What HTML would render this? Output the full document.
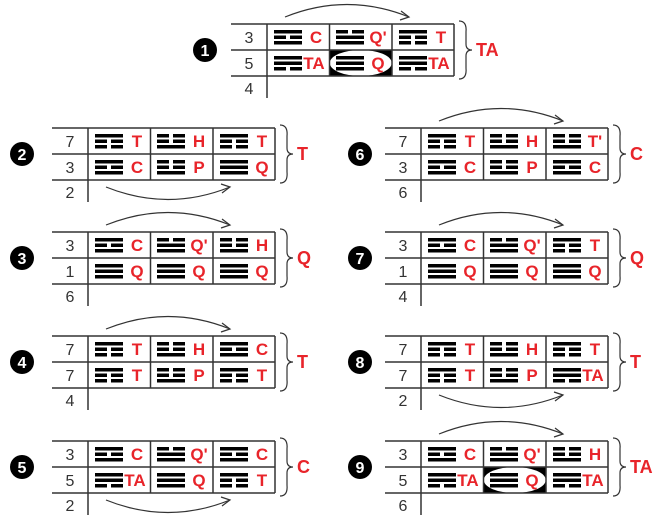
<!DOCTYPE html>
<html><head><meta charset="utf-8"><style>
html,body{margin:0;padding:0;background:#fff;width:658px;height:525px;overflow:hidden}
svg{display:block}
.n{font-family:"Liberation Sans",sans-serif;font-size:16px;fill:#333;text-anchor:middle}
.l{font-family:"Liberation Sans",sans-serif;font-size:17px;font-weight:bold;fill:#e8242a;text-anchor:middle}
.b{font-family:"Liberation Sans",sans-serif;font-size:18px;font-weight:bold;fill:#e8242a}
.c{font-family:"Liberation Sans",sans-serif;font-size:16px;font-weight:bold;fill:#fff;text-anchor:middle}
.ln{stroke:#333;stroke-width:1.5;fill:none}
.ar{stroke:#333;stroke-width:1.2;fill:none}
</style></head><body>
<svg width="658" height="525" viewBox="0 0 658 525" xmlns="http://www.w3.org/2000/svg">
<defs>
<g id="S0"><rect x="0" y="0" width="28" height="3.5"/></g>
<g id="B0"><rect x="0" y="0" width="12" height="3.5"/><rect x="16" y="0" width="12" height="3.5"/></g>
<g id="tC"><use href="#S0" y="0"/><use href="#B0" y="5.5"/><use href="#S0" y="11"/></g>
<g id="tQp"><use href="#B0" y="0"/><use href="#S0" y="5.5"/><use href="#S0" y="11"/></g>
<g id="tT"><use href="#S0" y="0"/><use href="#B0" y="5.5"/><use href="#B0" y="11"/></g>
<g id="tH"><use href="#B0" y="0"/><use href="#B0" y="5.5"/><use href="#S0" y="11"/></g>
<g id="tP"><use href="#B0" y="0"/><use href="#B0" y="5.5"/><use href="#S0" y="11"/></g>
<g id="tQ"><use href="#S0" y="0"/><use href="#S0" y="5.5"/><use href="#S0" y="11"/></g>
<g id="tTA"><use href="#S0" y="0"/><use href="#S0" y="5.5"/><use href="#B0" y="11"/></g>
<g id="frame">
<path class="ln" d="M0 0H223M0 26H223M0 52H223M36 0V74M98.5 0V52M161 0V52M223 0V52"/>
<path class="ar" d="M228 -3Q236 -3 235 8L235 20Q235 26 241 26Q235 26 235 32L235 44Q236 55 228 55"/>
</g>
<g id="atop"><path class="ar" d="M54 -7Q116 -32 178 -7"/><path class="ar" d="M170 -13L178 -7L169 -4"/></g>
<g id="abot"><path class="ar" d="M54 59Q116 84 178 59"/><path class="ar" d="M169 56L178 59L170 65"/></g>
<g id="oval"><rect x="98.5" y="26" width="62.5" height="26" fill="#000"/><ellipse cx="129.75" cy="39" rx="31" ry="13" fill="#fff"/></g>
</defs>

<g transform="translate(231,24)">
<use href="#oval"/><use href="#frame"/><use href="#atop"/>
<circle cx="-26" cy="26" r="12" fill="#000"/><text class="c" x="-26" y="32">1</text>
<text class="n" x="18" y="19">3</text><text class="n" x="18" y="45">5</text><text class="n" x="18" y="70">4</text>
<use href="#tC" x="43" y="6"/><text class="l" x="85" y="19">C</text>
<use href="#tQp" x="105" y="6"/><text class="l" x="147" y="19">Q'</text>
<use href="#tT" x="168" y="6"/><text class="l" x="210" y="19">T</text>
<use href="#tTA" x="43" y="32"/><text class="l" x="83" y="45">TA</text>
<use href="#tQ" x="105" y="32"/><text class="l" x="147" y="45">Q</text>
<use href="#tTA" x="168" y="32"/><text class="l" x="208" y="45">TA</text>
<text class="b" x="245" y="32">TA</text>
</g>

<g transform="translate(52,128)">
<use href="#frame"/><use href="#abot"/>
<circle cx="-30" cy="26" r="12" fill="#000"/><text class="c" x="-30" y="32">2</text>
<text class="n" x="18" y="19">7</text><text class="n" x="18" y="45">3</text><text class="n" x="18" y="70">2</text>
<use href="#tT" x="43" y="6"/><text class="l" x="85" y="19">T</text>
<use href="#tH" x="105" y="6"/><text class="l" x="147" y="19">H</text>
<use href="#tT" x="168" y="6"/><text class="l" x="210" y="19">T</text>
<use href="#tC" x="43" y="32"/><text class="l" x="85" y="45">C</text>
<use href="#tP" x="105" y="32"/><text class="l" x="147" y="45">P</text>
<use href="#tQ" x="168" y="32"/><text class="l" x="210" y="45">Q</text>
<text class="b" x="245" y="32">T</text>
</g>

<g transform="translate(52,232)">
<use href="#frame"/><use href="#atop"/>
<circle cx="-30" cy="26" r="12" fill="#000"/><text class="c" x="-30" y="32">3</text>
<text class="n" x="18" y="19">3</text><text class="n" x="18" y="45">1</text><text class="n" x="18" y="70">6</text>
<use href="#tC" x="43" y="6"/><text class="l" x="85" y="19">C</text>
<use href="#tQp" x="105" y="6"/><text class="l" x="147" y="19">Q'</text>
<use href="#tH" x="168" y="6"/><text class="l" x="210" y="19">H</text>
<use href="#tQ" x="43" y="32"/><text class="l" x="85" y="45">Q</text>
<use href="#tQ" x="105" y="32"/><text class="l" x="147" y="45">Q</text>
<use href="#tQ" x="168" y="32"/><text class="l" x="210" y="45">Q</text>
<text class="b" x="245" y="32">Q</text>
</g>

<g transform="translate(52,336)">
<use href="#frame"/><use href="#atop"/>
<circle cx="-30" cy="26" r="12" fill="#000"/><text class="c" x="-30" y="32">4</text>
<text class="n" x="18" y="19">7</text><text class="n" x="18" y="45">7</text><text class="n" x="18" y="70">4</text>
<use href="#tT" x="43" y="6"/><text class="l" x="85" y="19">T</text>
<use href="#tH" x="105" y="6"/><text class="l" x="147" y="19">H</text>
<use href="#tC" x="168" y="6"/><text class="l" x="210" y="19">C</text>
<use href="#tT" x="43" y="32"/><text class="l" x="85" y="45">T</text>
<use href="#tP" x="105" y="32"/><text class="l" x="147" y="45">P</text>
<use href="#tT" x="168" y="32"/><text class="l" x="210" y="45">T</text>
<text class="b" x="245" y="32">T</text>
</g>

<g transform="translate(52,441)">
<use href="#frame"/><use href="#abot"/>
<circle cx="-30" cy="26" r="12" fill="#000"/><text class="c" x="-30" y="32">5</text>
<text class="n" x="18" y="19">3</text><text class="n" x="18" y="45">5</text><text class="n" x="18" y="70">2</text>
<use href="#tC" x="43" y="6"/><text class="l" x="85" y="19">C</text>
<use href="#tQp" x="105" y="6"/><text class="l" x="147" y="19">Q'</text>
<use href="#tC" x="168" y="6"/><text class="l" x="210" y="19">C</text>
<use href="#tTA" x="43" y="32"/><text class="l" x="83" y="45">TA</text>
<use href="#tQ" x="105" y="32"/><text class="l" x="147" y="45">Q</text>
<use href="#tT" x="168" y="32"/><text class="l" x="210" y="45">T</text>
<text class="b" x="245" y="32">C</text>
</g>

<g transform="translate(385,128)">
<use href="#frame"/><use href="#atop"/>
<circle cx="-25" cy="26" r="12" fill="#000"/><text class="c" x="-25" y="32">6</text>
<text class="n" x="18" y="19">7</text><text class="n" x="18" y="45">3</text><text class="n" x="18" y="70">6</text>
<use href="#tT" x="43" y="6"/><text class="l" x="85" y="19">T</text>
<use href="#tH" x="105" y="6"/><text class="l" x="147" y="19">H</text>
<use href="#tH" x="168" y="6"/><text class="l" x="210" y="19">T'</text>
<use href="#tC" x="43" y="32"/><text class="l" x="85" y="45">C</text>
<use href="#tP" x="105" y="32"/><text class="l" x="147" y="45">P</text>
<use href="#tC" x="168" y="32"/><text class="l" x="210" y="45">C</text>
<text class="b" x="245" y="32">C</text>
</g>

<g transform="translate(385,232)">
<use href="#frame"/><use href="#atop"/>
<circle cx="-25" cy="26" r="12" fill="#000"/><text class="c" x="-25" y="32">7</text>
<text class="n" x="18" y="19">3</text><text class="n" x="18" y="45">1</text><text class="n" x="18" y="70">4</text>
<use href="#tC" x="43" y="6"/><text class="l" x="85" y="19">C</text>
<use href="#tQp" x="105" y="6"/><text class="l" x="147" y="19">Q'</text>
<use href="#tT" x="168" y="6"/><text class="l" x="210" y="19">T</text>
<use href="#tQ" x="43" y="32"/><text class="l" x="85" y="45">Q</text>
<use href="#tQ" x="105" y="32"/><text class="l" x="147" y="45">Q</text>
<use href="#tQ" x="168" y="32"/><text class="l" x="210" y="45">Q</text>
<text class="b" x="245" y="32">Q</text>
</g>

<g transform="translate(385,336)">
<use href="#frame"/><use href="#abot"/>
<circle cx="-25" cy="26" r="12" fill="#000"/><text class="c" x="-25" y="32">8</text>
<text class="n" x="18" y="19">7</text><text class="n" x="18" y="45">7</text><text class="n" x="18" y="70">2</text>
<use href="#tT" x="43" y="6"/><text class="l" x="85" y="19">T</text>
<use href="#tH" x="105" y="6"/><text class="l" x="147" y="19">H</text>
<use href="#tT" x="168" y="6"/><text class="l" x="210" y="19">T</text>
<use href="#tT" x="43" y="32"/><text class="l" x="85" y="45">T</text>
<use href="#tP" x="105" y="32"/><text class="l" x="147" y="45">P</text>
<use href="#tTA" x="168" y="32"/><text class="l" x="208" y="45">TA</text>
<text class="b" x="245" y="32">T</text>
</g>

<g transform="translate(385,441)">
<use href="#oval"/><use href="#frame"/><use href="#atop"/>
<circle cx="-25" cy="26" r="12" fill="#000"/><text class="c" x="-25" y="32">9</text>
<text class="n" x="18" y="19">3</text><text class="n" x="18" y="45">5</text><text class="n" x="18" y="70">6</text>
<use href="#tC" x="43" y="6"/><text class="l" x="85" y="19">C</text>
<use href="#tQp" x="105" y="6"/><text class="l" x="147" y="19">Q'</text>
<use href="#tH" x="168" y="6"/><text class="l" x="210" y="19">H</text>
<use href="#tTA" x="43" y="32"/><text class="l" x="83" y="45">TA</text>
<use href="#tQ" x="105" y="32"/><text class="l" x="147" y="45">Q</text>
<use href="#tTA" x="168" y="32"/><text class="l" x="208" y="45">TA</text>
<text class="b" x="245" y="32">TA</text>
</g>
</svg>
</body></html>
